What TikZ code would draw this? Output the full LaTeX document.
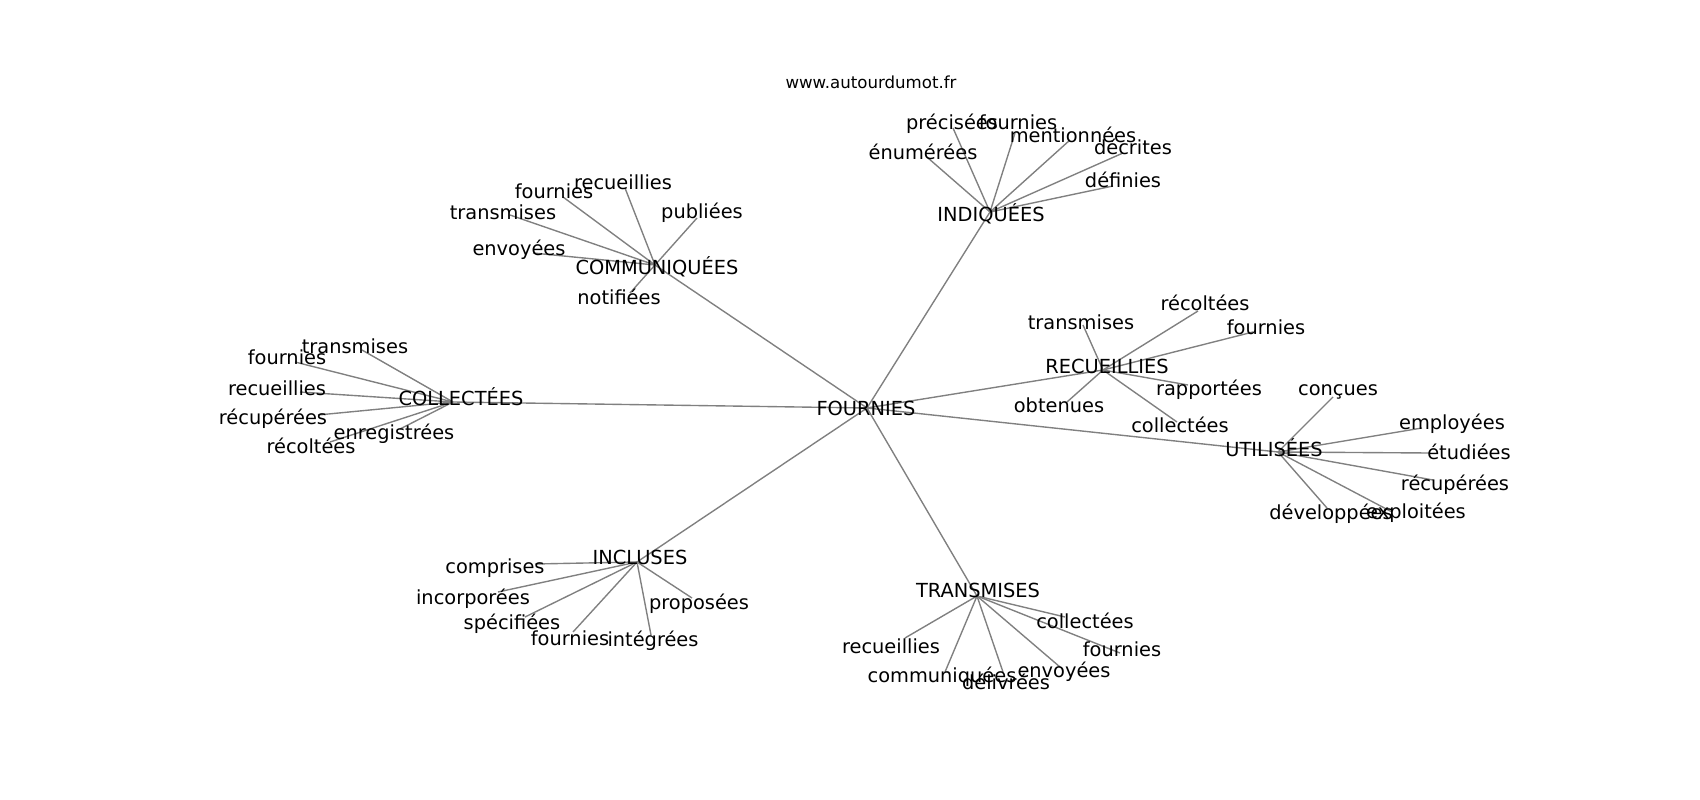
\documentclass[tikz,border=0pt]{standalone}
\usepackage{fontspec}
\setmainfont{DejaVu Sans}
\usepackage{tikz}
\tikzstyle{word} = [inner sep=0pt, text height=1.75ex, text depth=0pt, font=\fontsize{14}{16}\selectfont, text=black]
\tikzstyle{site} = [inner sep=0pt, text height=1.4ex, text depth=0pt, font=\fontsize{12}{14}\selectfont, text=black]
\tikzstyle{edge} = [draw=gray, line width=1pt]

\begin{document}
\begin{tikzpicture}[x=0.01in, y=-0.01in]
\useasboundingbox (0,0) rectangle (1700,800);

%% Graph positions
\coordinate (fournp) at (867,408);
\coordinate (comp) at (655,265);
\coordinate (indp) at (990,212);
\coordinate (colp) at (453,402);
\coordinate (recp) at (1103,370);
\coordinate (utip) at (1278,452);
\coordinate (incp) at (637,562);
\coordinate (trap) at (977,596);

\coordinate (com1p) at (625,188);
\coordinate (com2p) at (563,197);
\coordinate (com3p) at (510,215);
\coordinate (com4p) at (697,218);
\coordinate (com5p) at (533,253);
\coordinate (com6p) at (630,293);

\coordinate (ind1p) at (953,128);
\coordinate (ind2p) at (1015,133);
\coordinate (ind3p) at (928,158);
\coordinate (ind4p) at (1070,140);
\coordinate (ind5p) at (1123,153);
\coordinate (ind6p) at (1113,186);

\coordinate (col1p) at (362,350);
\coordinate (col2p) at (295,362);
\coordinate (col3p) at (300,392);
\coordinate (col4p) at (318,415);
\coordinate (col5p) at (400,429);
\coordinate (col6p) at (330,442);

\coordinate (rec1p) at (1083,325);
\coordinate (rec2p) at (1198,311);
\coordinate (rec3p) at (1253,332);
\coordinate (rec4p) at (1188,385);
\coordinate (rec5p) at (1067,402);
\coordinate (rec6p) at (1177,422);

\coordinate (uti1p) at (1333,397);
\coordinate (uti2p) at (1422,428);
\coordinate (uti3p) at (1430,453);
\coordinate (uti4p) at (1433,480);
\coordinate (uti5p) at (1392,512);
\coordinate (uti6p) at (1327,508);

\coordinate (inc1p) at (535,564);
\coordinate (inc2p) at (498,592);
\coordinate (inc3p) at (525,617);
\coordinate (inc4p) at (573,632);
\coordinate (inc5p) at (651,635);
\coordinate (inc6p) at (692,598);

\coordinate (tra1p) at (905,638);
\coordinate (tra2p) at (945,672);
\coordinate (tra3p) at (1003,672);
\coordinate (tra4p) at (1060,667);
\coordinate (tra5p) at (1065,617);
\coordinate (tra6p) at (1120,653);

%% Draw the connectivity.
\draw [edge] (fournp)--(comp);
\draw [edge] (fournp)--(indp);
\draw [edge] (fournp)--(colp);
\draw [edge] (fournp)--(recp);
\draw [edge] (fournp)--(utip);
\draw [edge] (fournp)--(incp);
\draw [edge] (fournp)--(trap);

\draw [edge] (comp)--(com1p);
\draw [edge] (comp)--(com2p);
\draw [edge] (comp)--(com3p);
\draw [edge] (comp)--(com4p);
\draw [edge] (comp)--(com5p);
\draw [edge] (comp)--(com6p);

\draw [edge] (indp)--(ind1p);
\draw [edge] (indp)--(ind2p);
\draw [edge] (indp)--(ind3p);
\draw [edge] (indp)--(ind4p);
\draw [edge] (indp)--(ind5p);
\draw [edge] (indp)--(ind6p);

\draw [edge] (colp)--(col1p);
\draw [edge] (colp)--(col2p);
\draw [edge] (colp)--(col3p);
\draw [edge] (colp)--(col4p);
\draw [edge] (colp)--(col5p);
\draw [edge] (colp)--(col6p);

\draw [edge] (recp)--(rec1p);
\draw [edge] (recp)--(rec2p);
\draw [edge] (recp)--(rec3p);
\draw [edge] (recp)--(rec4p);
\draw [edge] (recp)--(rec5p);
\draw [edge] (recp)--(rec6p);

\draw [edge] (utip)--(uti1p);
\draw [edge] (utip)--(uti2p);
\draw [edge] (utip)--(uti3p);
\draw [edge] (utip)--(uti4p);
\draw [edge] (utip)--(uti5p);
\draw [edge] (utip)--(uti6p);

\draw [edge] (incp)--(inc1p);
\draw [edge] (incp)--(inc2p);
\draw [edge] (incp)--(inc3p);
\draw [edge] (incp)--(inc4p);
\draw [edge] (incp)--(inc5p);
\draw [edge] (incp)--(inc6p);

\draw [edge] (trap)--(tra1p);
\draw [edge] (trap)--(tra2p);
\draw [edge] (trap)--(tra3p);
\draw [edge] (trap)--(tra4p);
\draw [edge] (trap)--(tra5p);
\draw [edge] (trap)--(tra6p);

%% Labels
\node (title) [site] at (871,83) {www.autourdumot.fr};

\node (fourn) [word] at (866,409) {FOURNIES};
\node (com) [word] at (657,268) {COMMUNIQUÉES};
\node (ind) [word] at (991,215) {INDIQUÉES};
\node (col) [word] at (461,399) {COLLECTÉES};
\node (rec) [word] at (1107,367) {RECUEILLIES};
\node (uti) [word] at (1274,450) {UTILISÉES};
\node (inc) [word] at (640,558) {INCLUSES};
\node (tra) [word] at (978,591) {TRANSMISES};

\node (com1) [word] at (623,183) {recueillies};
\node (com2) [word] at (554,192) {fournies};
\node (com3) [word] at (503,213) {transmises};
\node (com4) [word] at (702,212) {publiées};
\node (com5) [word] at (519,249) {envoyées};
\node (com6) [word] at (619,298) {notifiées};

\node (ind1) [word] at (952,123) {précisées};
\node (ind2) [word] at (1018,123) {fournies};
\node (ind3) [word] at (923,153) {énumérées};
\node (ind4) [word] at (1073,136) {mentionnées};
\node (ind5) [word] at (1133,148) {décrites};
\node (ind6) [word] at (1123,181) {définies};

\node (col1) [word] at (355,347) {transmises};
\node (col2) [word] at (287,358) {fournies};
\node (col3) [word] at (277,389) {recueillies};
\node (col4) [word] at (273,418) {récupérées};
\node (col5) [word] at (394,433) {enregistrées};
\node (col6) [word] at (311,447) {récoltées};

\node (rec1) [word] at (1081,323) {transmises};
\node (rec2) [word] at (1205,304) {récoltées};
\node (rec3) [word] at (1266,328) {fournies};
\node (rec4) [word] at (1209,389) {rapportées};
\node (rec5) [word] at (1059,406) {obtenues};
\node (rec6) [word] at (1180,426) {collectées};

\node (uti1) [word] at (1338,389) {conçues};
\node (uti2) [word] at (1452,423) {employées};
\node (uti3) [word] at (1469,453) {étudiées};
\node (uti4) [word] at (1455,484) {récupérées};
\node (uti5) [word] at (1416,512) {exploitées};
\node (uti6) [word] at (1331,513) {développées};

\node (inc1) [word] at (495,567) {comprises};
\node (inc2) [word] at (473,598) {incorporées};
\node (inc3) [word] at (512,623) {spécifiées};
\node (inc4) [word] at (570,639) {fournies};
\node (inc5) [word] at (653,640) {intégrées};
\node (inc6) [word] at (699,603) {proposées};

\node (tra1) [word] at (891,647) {recueillies};
\node (tra2) [word] at (942,676) {communiquées};
\node (tra3) [word] at (1006,683) {délivrées};
\node (tra4) [word] at (1064,671) {envoyées};
\node (tra5) [word] at (1085,622) {collectées};
\node (tra6) [word] at (1122,650) {fournies};
\end{tikzpicture}
\end{document}
